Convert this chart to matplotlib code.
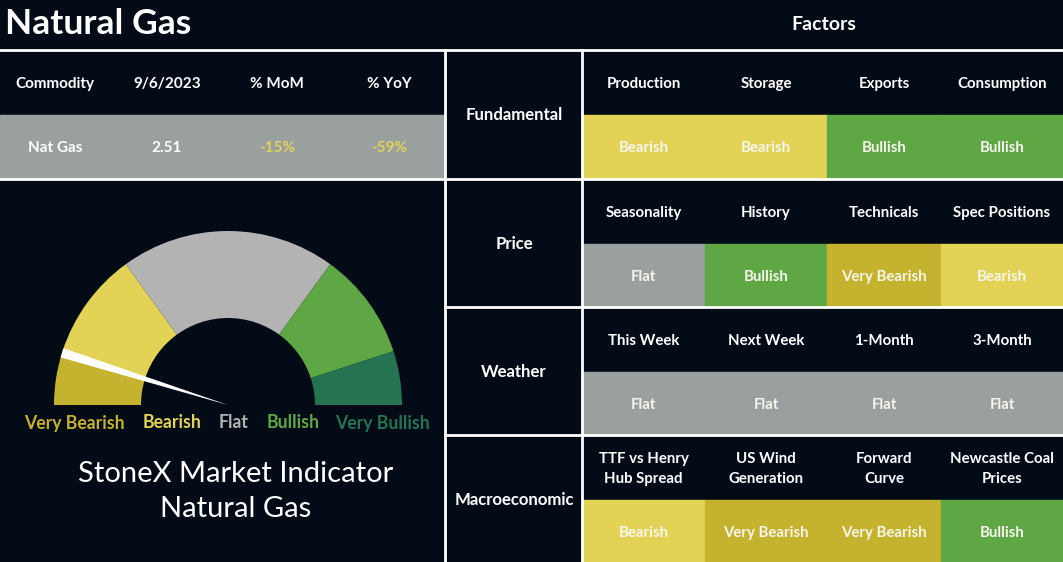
import numpy as np
import matplotlib
matplotlib.use("Agg")
import matplotlib.pyplot as plt
from matplotlib.patches import Rectangle, Wedge, Polygon

plt.rcParams["font.family"] = ["Lato", "DejaVu Sans"]

# data
commodity_headers = ["Commodity", "9/6/2023", "% MoM", "% YoY"]
commodity_values = ["Nat Gas", "2.51", "-15%", "-59%"]
commodity_value_colors = ["white", "white", "#e2d356", "#e2d356"]

categories = ["Fundamental", "Price", "Weather", "Macroeconomic"]
factors = [
    ["Production", "Storage", "Exports", "Consumption"],
    ["Seasonality", "History", "Technicals", "Spec Positions"],
    ["This Week", "Next Week", "1-Month", "3-Month"],
    ["TTF vs Henry\nHub Spread", "US Wind\nGeneration", "Forward\nCurve", "Newcastle Coal\nPrices"],
]
signals = [
    ["Bearish", "Bearish", "Bullish", "Bullish"],
    ["Flat", "Bullish", "Very Bearish", "Bearish"],
    ["Flat", "Flat", "Flat", "Flat"],
    ["Bearish", "Very Bearish", "Very Bearish", "Bullish"],
]

gauge_labels = ["Very Bearish", "Bearish", "Flat", "Bullish", "Very Bullish"]
gauge_units = [1, 2, 4, 2, 1]
needle_score = 0.97  # position on the 0-10 gauge scale

BG = "#030b17"
cell_colors = {
    "Very Bearish": "#c5b22e",
    "Bearish": "#e2d356",
    "Flat": "#9aa09f",
    "Bullish": "#5fa744",
    "Very Bullish": "#267352",
}
gauge_colors = ["#c5b22e", "#e2d356", "#b3b3b3", "#5fa744", "#267352"]

fig = plt.figure(figsize=(10.63, 5.62), dpi=100, facecolor=BG)
ax = fig.add_axes([0, 0, 1, 1])
ax.set_xlim(0, 1063)
ax.set_ylim(562, 0)
ax.axis("off")
ax.set_facecolor(BG)

# title + factors heading
ax.text(5, 24, "Natural Gas", color="white", fontsize=25.5, fontweight="bold",
        ha="left", va="center")
ax.text(824, 25, "Factors", color="white", fontsize=14, fontweight="bold",
        ha="center", va="center")

# left commodity table
col_x = [55, 167, 277, 389]
ax.add_patch(Rectangle((0, 115), 445, 63, color="#9aa09f", zorder=1))
for x, h, v, c in zip(col_x, commodity_headers, commodity_values, commodity_value_colors):
    ax.text(x, 84, h, color="white", fontsize=11, fontweight="bold", ha="center", va="center")
    ax.text(x, 148, v, color=c, fontsize=11, fontweight="bold", ha="center", va="center")

# factor grid
col_edges = [582, 705, 827, 941, 1063]
row_top = [50, 179, 307, 435]
for i, cat in enumerate(categories):
    top = row_top[i]
    mid = top + 64
    ax.text(514, mid + 1, cat, color="white", fontsize=12.1, fontweight="bold",
            ha="center", va="center")
    for j in range(4):
        x0, x1 = col_edges[j], col_edges[j + 1]
        xc = (x0 + x1) / 2
        ax.add_patch(Rectangle((x0, mid + 1), x1 - x0, 63,
                               color=cell_colors[signals[i][j]], zorder=1))
        ax.text(xc, top + 34, factors[i][j], color="white", fontsize=10.8,
                fontweight="bold", ha="center", va="center", linespacing=1.5)
        ax.text(xc, top + 98, signals[i][j], color="#f6f6ee", fontsize=10.8,
                fontweight="bold", ha="center", va="center")

# grid lines
lw = 2
ax.plot([0, 1063], [50, 50], color="white", lw=lw, zorder=5)
ax.plot([0, 1063], [179, 179], color="white", lw=lw, zorder=5)
for y in [307, 435]:
    ax.plot([445, 1063], [y, y], color="white", lw=lw, zorder=5)
for x in [445, 582]:
    ax.plot([x, x], [50, 562], color="white", lw=lw, zorder=5)

# gauge
cx, cy = 228, 405
r_out, r_in = 174, 87
total = sum(gauge_units)
start = 180.0
for units, col in zip(gauge_units, gauge_colors):
    span = 180.0 * units / total
    # y axis is inverted, so angles are mirrored
    w = Wedge((cx, cy), r_out, -start, -(start - span), width=r_out - r_in,
              facecolor=col, edgecolor="none", zorder=2)
    ax.add_patch(w)
    start -= span

ang = np.deg2rad(180.0 - 180.0 * needle_score / total)
ux, uy = np.cos(ang), -np.sin(ang)
px, py = -uy, ux
half = 4.8
tip = (cx + ux * r_out, cy + uy * r_out)
needle = Polygon([(cx, cy),
                  (tip[0] + px * half, tip[1] + py * half),
                  (tip[0] - px * half, tip[1] - py * half)],
                 closed=True, facecolor="white", edgecolor="none", zorder=3)
ax.add_patch(needle)

label_x = [74, 172, 234, 293, 382]
for x, lab, col in zip(label_x, gauge_labels, gauge_colors):
    ax.text(x, 423, lab, color=col, fontsize=12.7, fontweight="bold",
            ha="center", va="center")

ax.text(236, 474, "StoneX Market Indicator", color="white", fontsize=21,
        ha="center", va="center")
ax.text(236, 509, "Natural Gas", color="white", fontsize=21,
        ha="center", va="center")

fig.savefig("out.png", dpi=100, facecolor=BG)
